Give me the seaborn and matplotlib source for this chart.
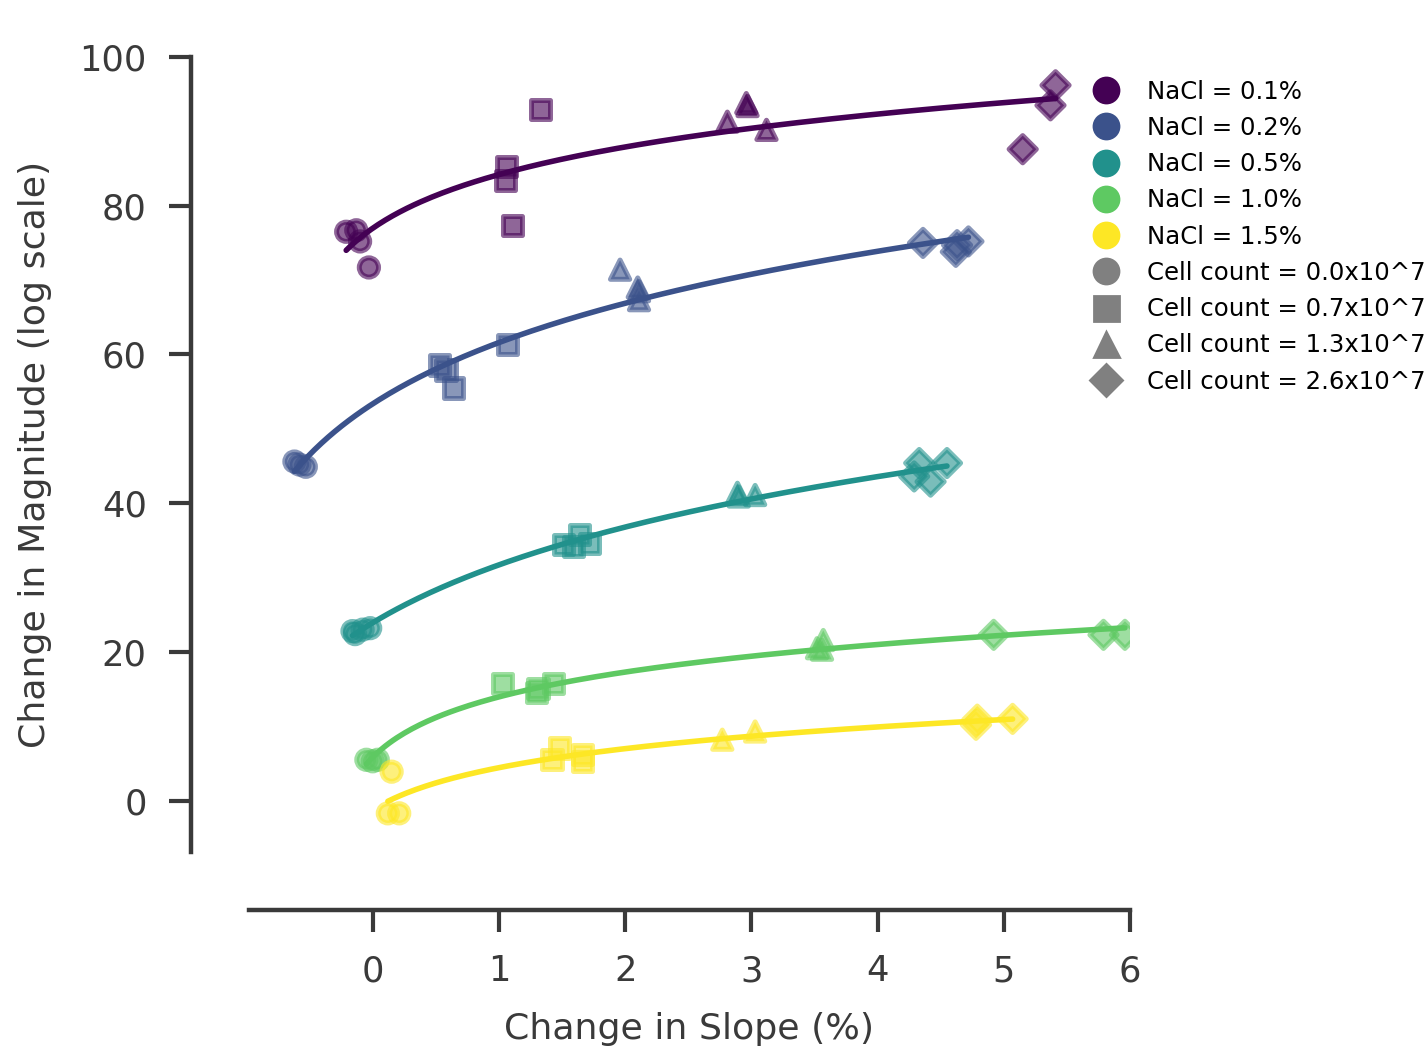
import numpy as np
import pandas as pd
import matplotlib
matplotlib.use("Agg")
import matplotlib.pyplot as plt
from matplotlib.lines import Line2D
import seaborn as sns

# ---------------- data ----------------
nacl_levels = ["0.1", "0.2", "0.5", "1.0", "1.5"]
cell_levels = ["0.0", "0.7", "1.3", "2.6"]

# NaCl = 0.1%
x_01 = [-0.21, -0.13, -0.10, -0.03, 1.33, 1.06, 1.05, 1.11, 2.81, 2.97, 2.96, 3.12, 5.41, 5.37, 5.15]
y_01 = [76.5, 76.7, 75.2, 71.7, 92.9, 85.3, 83.4, 77.3, 91.3, 93.4, 93.8, 90.2, 96.2, 93.5, 87.6]
c_01 = ["0.0"] * 4 + ["0.7"] * 4 + ["1.3"] * 4 + ["2.6"] * 3

# NaCl = 0.2%
x_02 = [-0.62, -0.53, -0.58, 0.53, 0.58, 0.64, 1.07, 1.96, 2.10, 2.11, 2.11, 4.36, 4.62, 4.63, 4.72]
y_02 = [45.6, 44.9, 45.2, 58.6, 57.9, 55.5, 61.3, 71.4, 69.0, 68.5, 67.3, 75.0, 73.8, 74.7, 75.2]
c_02 = ["0.0"] * 3 + ["0.7"] * 4 + ["1.3"] * 4 + ["2.6"] * 4

# NaCl = 0.5%
x_05 = [-0.16, -0.14, -0.08, -0.02, 1.51, 1.59, 1.64, 1.72, 2.89, 2.90, 3.03, 4.33, 4.29, 4.42, 4.55]
y_05 = [22.8, 22.4, 23.0, 23.2, 34.4, 34.2, 35.8, 34.6, 41.4, 40.9, 41.1, 45.4, 43.6, 42.9, 45.4]
c_05 = ["0.0"] * 4 + ["0.7"] * 4 + ["1.3"] * 3 + ["2.6"] * 4

# NaCl = 1.0%
x_10 = [-0.05, 0.00, 0.04, 1.03, 1.31, 1.30, 1.43, 3.57, 3.52, 3.56, 4.92, 5.79, 5.96]
y_10 = [5.5, 5.3, 5.5, 15.8, 15.1, 14.5, 15.8, 21.6, 20.5, 20.3, 22.3, 22.3, 22.3]
c_10 = ["0.0"] * 3 + ["0.7"] * 4 + ["1.3"] * 3 + ["2.6"] * 3

# NaCl = 1.5%
x_15 = [0.15, 0.12, 0.21, 1.42, 1.48, 1.66, 1.66, 2.77, 3.03, 4.78, 4.79, 5.07]
y_15 = [3.9, -1.7, -1.7, 5.5, 7.1, 6.2, 5.3, 8.2, 9.3, 10.2, 10.9, 11.0]
c_15 = ["0.0"] * 3 + ["0.7"] * 4 + ["1.3"] * 2 + ["2.6"] * 3

xticks = [0, 1, 2, 3, 4, 5, 6]
yticks = [0, 20, 40, 60, 80, 100]

groups = [(x_01, y_01, c_01), (x_02, y_02, c_02), (x_05, y_05, c_05),
          (x_10, y_10, c_10), (x_15, y_15, c_15)]

rows = []
for lvl, (xs, ys, cs) in zip(nacl_levels, groups):
    for xv, yv, cv in zip(xs, ys, cs):
        rows.append({"slope": xv, "mag": yv, "nacl": lvl, "cell": cv})
df = pd.DataFrame(rows)

colors = plt.cm.viridis(np.linspace(0, 1, len(nacl_levels)))
palette = {lvl: colors[i] for i, lvl in enumerate(nacl_levels)}
markers = {"0.0": "o", "0.7": "s", "1.3": "^", "2.6": "D"}

# ---------------- figure ----------------
sns.set_theme(style="ticks")
plt.rcParams["font.family"] = ["DejaVu Sans"]
DPI = 200
fig = plt.figure(figsize=(1428 / DPI, 1053 / DPI), dpi=DPI)
ax = fig.add_axes([249 / 1428, 1 - 852 / 1053, (1130 - 249) / 1428, (852 - 57) / 1053])

sns.scatterplot(data=df, x="slope", y="mag", hue="nacl", style="cell",
                palette=palette, markers=markers, hue_order=nacl_levels,
                style_order=cell_levels, s=48, alpha=0.6, linewidth=1.8,
                edgecolor="face", legend=False, ax=ax, zorder=3)

# logarithmic fit per NaCl level
for lvl in nacl_levels:
    sub = df[df["nacl"] == lvl]
    xs = sub["slope"].to_numpy()
    ys = sub["mag"].to_numpy()
    xmin = xs.min()
    best = None
    for c in np.linspace(0.3, 2.0, 200):
        A = np.column_stack([np.ones_like(xs), np.log(xs - xmin + c)])
        coef, *_ = np.linalg.lstsq(A, ys, rcond=None)
        sse = np.sum((A @ coef - ys) ** 2)
        if best is None or sse < best[0]:
            best = (sse, c, coef)
    _, c, coef = best
    xf = np.linspace(xmin, xs.max(), 200)
    yf = coef[0] + coef[1] * np.log(xf - xmin + c)
    sns.lineplot(x=xf, y=yf, color=palette[lvl], linewidth=2.0, ax=ax, zorder=4)

ax.set_xlim(-0.98, 6.0)
ax.set_ylim(-6.9, 100)
ax.set_xticks(xticks)
ax.set_yticks(yticks)

text_col = "#3a3a3a"
ax.set_xlabel("Change in Slope (%)", fontsize=13.1, color=text_col, labelpad=8.5)
ax.set_ylabel("Change in Magnitude (log scale)", fontsize=13.1, color=text_col, labelpad=10)
ax.tick_params(axis="both", labelsize=12.7, length=7.8, width=1.5, colors=text_col, pad=8)

sns.despine(ax=ax)
for side in ["left", "bottom"]:
    ax.spines[side].set_position(("outward", 21))
    ax.spines[side].set_linewidth(1.6)
    ax.spines[side].set_color(text_col)

# legend
handles = []
labels = []
for lvl in nacl_levels:
    handles.append(Line2D([], [], linestyle="none", marker="o", markersize=9,
                          markerfacecolor=palette[lvl], markeredgecolor=palette[lvl]))
    labels.append(f"NaCl = {lvl}%")
for cl in cell_levels:
    ms = 9 if markers[cl] != "D" else 8
    handles.append(Line2D([], [], linestyle="none", marker=markers[cl], markersize=ms,
                          markerfacecolor="gray", markeredgecolor="gray"))
    labels.append(f"Cell count = {cl}x10^7")
ax.legend(handles, labels, loc="upper left", bbox_to_anchor=(1072 / 1428, 1 - 70 / 1053),
          bbox_transform=fig.transFigure, frameon=False, fontsize=8.8,
          handletextpad=0.68, labelspacing=0.5, borderaxespad=0, labelcolor="black")

fig.savefig("out.png", dpi=DPI)
